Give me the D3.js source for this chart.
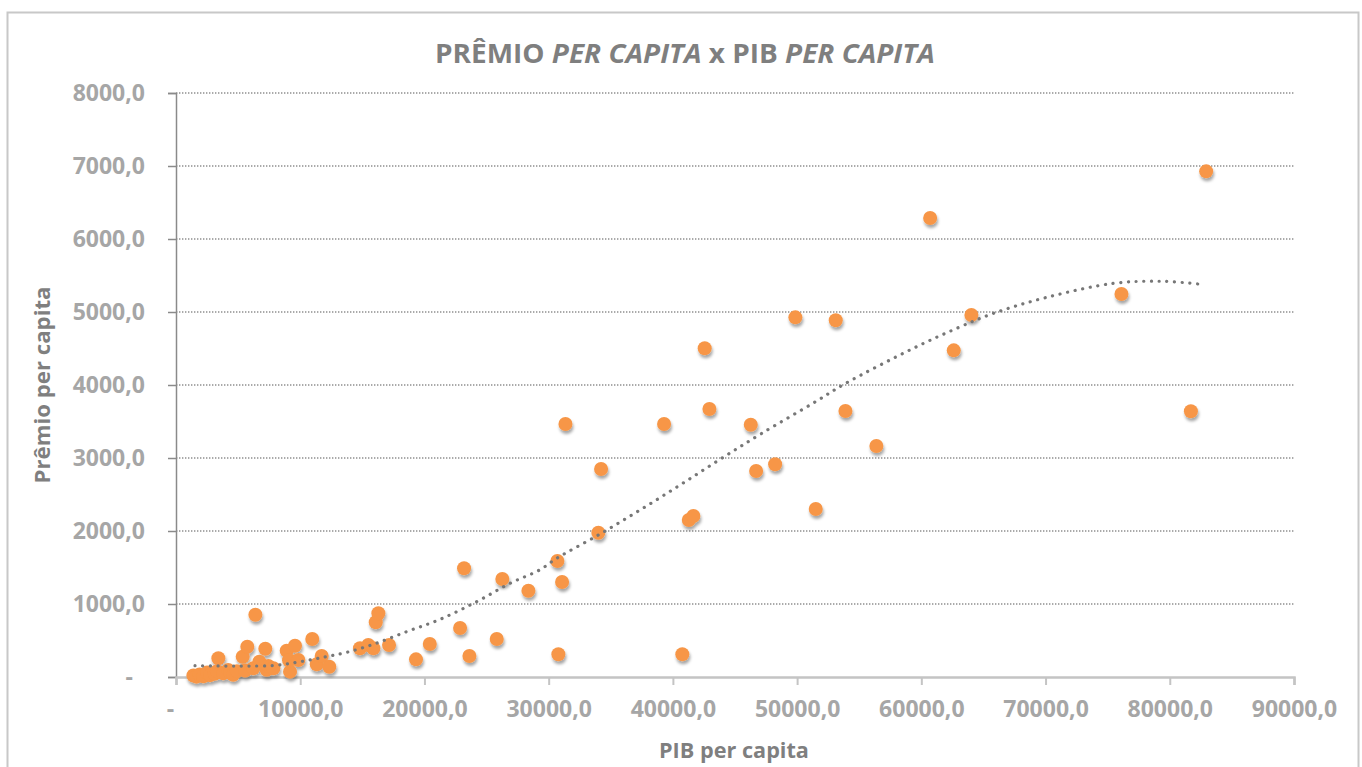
<!DOCTYPE html>
<html>
<head>
<meta charset="utf-8">
<script src="https://cdn.jsdelivr.net/npm/d3@7"></script>
<style>
  body { margin: 0; background: #fff; }
  text { font-family: "Open Sans", "DejaVu Sans", sans-serif; }
</style>
</head>
<body>
<div id="chart"></div>
<script>
// values
const PIB = [1400, 1650, 1900, 2200, 2500, 2750, 3100, 3300, 3410, 3800, 4200, 4350, 4600, 4900,
    5370, 5560, 5740, 6220, 6390, 6710, 7190, 7300, 7430, 7840, 8910, 9180, 9100, 9580, 9850,
    10970, 11330, 11730, 12340,
    14810, 15480, 15890, 16080, 16290, 17150, 19320, 20430, 22870, 23190, 23620, 25820, 26270,
    28370, 30700, 30780, 31080, 31350, 34000, 34220, 39290, 40760, 41280, 41650, 42560, 42940,
    46270, 46700, 48230, 49860, 51500, 53110, 53890, 56380, 60710, 62610, 64030, 76110, 81700, 82930];
const PREMIO = [20, 5, 35, 10, 60, 25, 45, 80, 256, 50, 95, 60, 30, 80,
    278, 90, 415, 120, 853, 210, 388, 100, 150, 120, 360, 73, 230, 429, 233,
    521, 174, 288, 141,
    393, 438, 393, 749, 873, 438, 242, 452, 671, 1489, 288, 521, 1342,
    1182, 1589, 311, 1301, 3466, 1977, 2849, 3466, 311, 2151, 2205, 4503, 3671,
    3456, 2822, 2914, 4927, 2301, 4886, 3644, 3164, 6288, 4475, 4959, 5247, 3640, 6927];

// polynomial trendline as drawn
const TREND_PIB = [1530, 5000, 8000, 10000, 12000, 13740, 15890, 18570, 21260, 24210, 26890, 29310,
    30650, 34000, 37360, 40580, 43800, 47160, 51580, 53800, 59360, 62860, 65810, 70100, 75500, 79490, 82770];
const TREND_PREMIO = [155, 150, 160, 210, 275, 338, 448, 621, 790, 1032, 1283, 1470,
    1626, 1945, 2288, 2630, 2982, 3338, 3781, 4012, 4503, 4777, 4982, 5201, 5393, 5420, 5374];

const X_TICKS = [0, 10000, 20000, 30000, 40000, 50000, 60000, 70000, 80000, 90000];
const Y_TICKS = [0, 1000, 2000, 3000, 4000, 5000, 6000, 7000, 8000];

const W = 1362, H = 767;
const M = { top: 93, right: 68, bottom: 90, left: 176 };

const svg = d3.select("#chart").append("svg")
    .attr("width", W)
    .attr("height", H);

const defs = svg.append("defs");
const shadow = defs.append("filter")
    .attr("id", "shadow")
    .attr("x", "-50%").attr("y", "-50%")
    .attr("width", "200%").attr("height", "200%");
shadow.append("feDropShadow")
    .attr("dx", 1).attr("dy", 3)
    .attr("stdDeviation", 1.8)
    .attr("flood-color", "#000")
    .attr("flood-opacity", 0.35);

// chart border
svg.append("rect")
    .attr("x", 7.5).attr("y", 12.5)
    .attr("width", 1351).attr("height", 780)
    .attr("fill", "none")
    .attr("stroke", "#c8c8c8")
    .attr("stroke-width", 2);

const x = d3.scaleLinear().domain([0, 90000]).range([M.left, W - M.right]);
const y = d3.scaleLinear().domain([0, 8000]).range([H - M.bottom, M.top]);

const fmt = v => v === 0 ? "-" : v.toFixed(1).replace(".", ",");

// gridlines
svg.append("g")
    .selectAll("line")
    .data(Y_TICKS.filter(d => d > 0))
    .enter()
    .append("line")
    .attr("x1", x(0)).attr("x2", x(90000))
    .attr("y1", d => y(d)).attr("y2", d => y(d))
    .attr("stroke", "#8f8f8f")
    .attr("stroke-width", 1.3)
    .attr("stroke-dasharray", "1.4 1.6");

// y axis
const yAxis = svg.append("g")
    .attr("transform", "translate(" + x(0) + ",0)")
    .call(d3.axisLeft(y).tickValues(Y_TICKS).tickSize(8).tickPadding(23).tickFormat(fmt));
yAxis.select(".domain").attr("stroke", "#8a8a8a").attr("stroke-width", 1.5);
yAxis.selectAll(".tick line").attr("stroke", "#8a8a8a").attr("stroke-width", 1.5);
yAxis.selectAll(".tick text")
    .attr("fill", "#a6a6a6")
    .style("font-size", "23px")
    .style("font-weight", "bold")
    .attr("dx", d => d === 0 ? -12 : 0);

// x axis
const xAxis = svg.append("g")
    .attr("transform", "translate(0," + y(0) + ")")
    .call(d3.axisBottom(x).tickValues(X_TICKS).tickSize(8).tickPadding(16).tickFormat(fmt));
xAxis.select(".domain").attr("stroke", "#c4c4c4").attr("stroke-width", 2.5);
xAxis.selectAll(".tick line").attr("stroke", "#c4c4c4").attr("stroke-width", 2);
xAxis.selectAll(".tick text")
    .attr("fill", "#a6a6a6")
    .style("font-size", "23px")
    .style("font-weight", "bold")
    .attr("dx", d => d === 0 ? -6 : 0);

// points
svg.append("g")
    .attr("filter", "url(#shadow)")
    .selectAll("circle")
    .data(PIB.map((p, i) => ({ pib: p, premio: PREMIO[i] })))
    .enter()
    .append("circle")
    .attr("cx", d => x(d.pib))
    .attr("cy", d => y(d.premio))
    .attr("r", 7)
    .attr("fill", "#f79646");

// trendline
const trend = TREND_PIB.map((p, i) => [p, TREND_PREMIO[i]]);
svg.append("path")
    .datum(trend)
    .attr("d", d3.line().x(d => x(d[0])).y(d => y(d[1])).curve(d3.curveCatmullRom))
    .attr("fill", "none")
    .attr("stroke", "#777")
    .attr("stroke-width", 3.2)
    .attr("stroke-linecap", "round")
    .attr("stroke-dasharray", "0.1 7.6");

// title
const title = svg.append("text")
    .attr("x", 0).attr("y", 0)
    .attr("fill", "#7f7f7f")
    .style("font-size", "27px")
    .style("font-weight", "bold");
title.append("tspan").text("PRÊMIO ");
title.append("tspan").style("font-style", "italic").text("PER CAPITA");
title.append("tspan").text(" x PIB ");
title.append("tspan").style("font-style", "italic").text("PER CAPITA");
const tw = title.node().getComputedTextLength();
const sx = 500 / tw;
title.attr("transform", "translate(" + (685 - 250) + ",63) scale(" + sx + ",1)");

// axis titles
const xt = svg.append("text")
    .attr("fill", "#7f7f7f")
    .style("font-size", "21px")
    .style("font-weight", "bold")
    .text("PIB per capita");
const xtw = xt.node().getComputedTextLength();
xt.attr("transform", "translate(" + (734 - 75) + ",758) scale(" + (150 / xtw) + ",1)");

const yt = svg.append("text")
    .attr("fill", "#7f7f7f")
    .style("font-size", "21px")
    .style("font-weight", "bold")
    .text("Prêmio per capita");
const ytw = yt.node().getComputedTextLength();
yt.attr("transform", "translate(50," + (385 + 98.5) + ") rotate(-90) scale(" + (197 / ytw) + ",1)");
</script>
</body>
</html>
